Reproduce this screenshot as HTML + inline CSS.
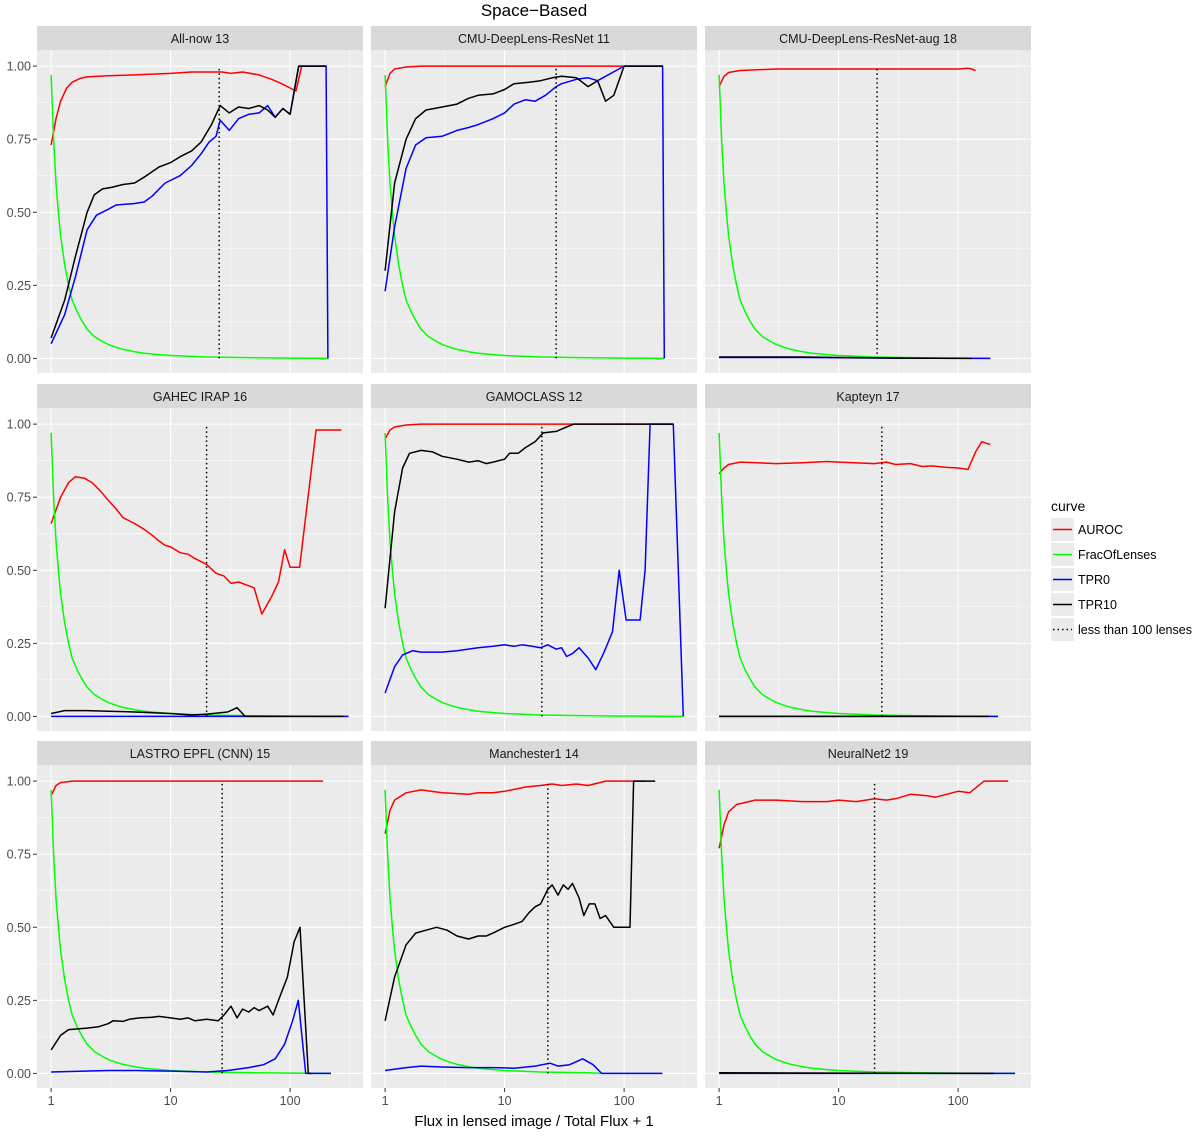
<!DOCTYPE html>
<html><head><meta charset="utf-8"><style>
body{margin:0;background:#fff;}
svg text{font-family:"Liberation Sans",Arial,sans-serif;}
</style></head><body>
<svg id="chart" width="1200" height="1133" viewBox="0 0 1200 1133" xmlns="http://www.w3.org/2000/svg">
<text x="534" y="16" font-size="17" text-anchor="middle" fill="#000">Space−Based</text>
<text x="534" y="1126" font-size="15" text-anchor="middle" fill="#000">Flux in lensed image / Total Flux + 1</text>
<g id="panels"></g>
<g id="legend">
<text x="1051" y="511" font-size="14" fill="#000">curve</text>
</g>
</svg>
<script>
const panelTitles = ["All-now 13","CMU-DeepLens-ResNet 11","CMU-DeepLens-ResNet-aug 18","GAHEC IRAP 16","GAMOCLASS 12","Kapteyn 17","LASTRO EPFL (CNN) 15","Manchester1 14","NeuralNet2 19"];
const yTicks = [0,0.25,0.5,0.75,1];
const yTickLabels = ["0.00","0.25","0.50","0.75","1.00"];
const xTicks = [1,10,100];
const xTickLabels = ["1","10","100"];
const legendLabels = ["AUROC","FracOfLenses","TPR0","TPR10","less than 100 lenses"];
const fracCurve = [[1,0.97],[1.05,0.75],[1.1,0.6],[1.15,0.5],[1.2,0.42],[1.3,0.32],[1.4,0.25],[1.5,0.2],[1.65,0.16],[1.8,0.13],[2,0.1],[2.3,0.075],[2.7,0.058],[3,0.048],[3.5,0.038],[4,0.031],[5,0.023],[6,0.018],[7,0.015],[8.5,0.012],[10,0.01],[15,0.007],[20,0.005],[35,0.003],[50,0.002],[100,0.001]];
const fracEnd = [210,217,186,308,313,216,220,65,300];
const dottedX = [25.5,27,21,20,20.5,23,27,23,20];

const auroc1 = [[1,0.73],[1.1,0.82],[1.2,0.88],[1.35,0.925],[1.5,0.945],[1.75,0.958],[2,0.963],[3,0.967],[5,0.97],[10,0.975],[15,0.98],[20,0.98],[27,0.98],[32,0.975],[40,0.98],[55,0.97],[70,0.955],[85,0.94],[100,0.925],[112,0.915],[125,1],[200,1]];
const tpr10_1 = [[1,0.07],[1.3,0.2],[1.6,0.35],[2,0.5],[2.3,0.56],[2.7,0.58],[3.2,0.585],[4,0.595],[5,0.6],[6,0.62],[8,0.655],[10,0.67],[12,0.69],[15,0.71],[18,0.74],[22,0.8],[26,0.865],[31,0.84],[37,0.86],[45,0.855],[55,0.865],[65,0.85],[75,0.825],[87,0.855],[100,0.835],[118,1],[200,1]];
const tpr0_1 = [[1,0.05],[1.3,0.15],[1.6,0.28],[2,0.44],[2.4,0.49],[3,0.51],[3.5,0.525],[5,0.53],[6,0.535],[7,0.555],[9,0.6],[12,0.625],[15,0.66],[18,0.7],[21,0.74],[24,0.76],[26,0.815],[31,0.78],[37,0.82],[45,0.835],[55,0.84],[65,0.865],[75,0.825],[87,0.855],[100,0.835],[118,1],[200,1],[207,0]];

const auroc2 = [[1,0.93],[1.1,0.975],[1.2,0.99],[1.5,0.997],[2,1],[100,1],[210,1]];
const tpr10_2 = [[1,0.3],[1.2,0.6],[1.5,0.75],[1.8,0.82],[2.2,0.85],[3,0.86],[4,0.87],[5,0.89],[6,0.9],[8,0.905],[10,0.92],[12,0.94],[16,0.945],[20,0.95],[25,0.96],[30,0.965],[40,0.96],[50,0.93],[60,0.95],[70,0.88],[82,0.9],[100,1],[210,1]];
const tpr0_2 = [[1,0.23],[1.2,0.45],[1.5,0.65],[1.8,0.73],[2.2,0.755],[3,0.76],[4,0.78],[5,0.79],[6,0.8],[8,0.82],[10,0.84],[12,0.87],[15,0.885],[18,0.88],[22,0.9],[27,0.93],[30,0.94],[40,0.955],[50,0.96],[60,0.95],[100,1],[210,1],[217,0]];

const auroc3 = [[1,0.93],[1.1,0.965],[1.2,0.978],[1.5,0.985],[3,0.99],[10,0.99],[50,0.99],[100,0.99],[120,0.993],[130,0.99],[140,0.985]];
const tpr10_3 = [[1,0.005],[5,0.005],[10,0.003],[30,0.001],[130,0]];
const tpr0_3 = [[1,0.003],[5,0.003],[30,0.001],[186,0]];

const auroc4 = [[1,0.66],[1.2,0.75],[1.4,0.8],[1.6,0.82],[1.9,0.815],[2.2,0.8],[2.6,0.77],[3,0.74],[3.5,0.71],[4,0.68],[5,0.66],[6,0.64],[7,0.62],[8,0.6],[9,0.585],[10,0.58],[12,0.56],[14,0.555],[16,0.54],[20,0.52],[24,0.49],[28,0.48],[32,0.455],[37,0.46],[43,0.45],[50,0.44],[58,0.35],[70,0.41],[80,0.46],[90,0.57],[100,0.51],[120,0.51],[165,0.98],[269,0.98]];
const tpr10_4 = [[1,0.01],[1.3,0.02],[2,0.02],[3,0.018],[5,0.015],[10,0.01],[15,0.005],[20,0.008],[30,0.015],[36,0.03],[42,0],[280,0]];
const tpr0_4 = [[1,0],[308,0]];

const auroc5 = [[1,0.95],[1.1,0.98],[1.2,0.99],[1.5,0.997],[2,1],[250,1]];
const tpr10_5 = [[1,0.37],[1.2,0.7],[1.4,0.85],[1.6,0.9],[2,0.91],[2.5,0.905],[3,0.89],[4,0.88],[5,0.87],[6,0.875],[7,0.865],[8,0.87],[10,0.88],[11,0.9],[13,0.9],[15,0.92],[18,0.94],[21,0.97],[27,0.975],[33,0.99],[38,1],[258,1]];
const tpr0_5 = [[1,0.08],[1.2,0.17],[1.4,0.21],[1.7,0.225],[2,0.22],[3,0.22],[4,0.225],[6,0.235],[8,0.24],[10,0.245],[12,0.24],[14,0.245],[17,0.24],[20,0.235],[23,0.245],[27,0.23],[30,0.235],[33,0.205],[37,0.215],[42,0.235],[50,0.2],[58,0.16],[68,0.22],[80,0.29],[91,0.5],[104,0.33],[136,0.33],[150,0.5],[165,1],[258,1],[313,0]];

const auroc6 = [[1,0.83],[1.1,0.85],[1.2,0.862],[1.5,0.87],[3,0.865],[5,0.868],[8,0.872],[10,0.87],[20,0.865],[25,0.87],[30,0.862],[40,0.865],[50,0.855],[60,0.857],[80,0.852],[100,0.85],[121,0.845],[140,0.905],[158,0.94],[186,0.93]];
const tpr10_6 = [[1,0],[180,0]];
const tpr0_6 = [[1,0],[216,0]];

const auroc7 = [[1,0.95],[1.1,0.985],[1.2,0.995],[1.5,1],[189,1]];
const tpr10_7 = [[1,0.08],[1.2,0.13],[1.4,0.15],[2,0.155],[2.5,0.16],[3,0.17],[3.3,0.18],[4,0.178],[4.5,0.185],[5.5,0.19],[7,0.192],[8,0.195],[10,0.19],[12,0.185],[14,0.19],[16,0.18],[20,0.185],[25,0.18],[28,0.2],[32,0.23],[36,0.19],[40,0.22],[45,0.21],[50,0.225],[55,0.215],[65,0.23],[72,0.2],[80,0.25],[95,0.33],[108,0.45],[121,0.5],[142,0],[150,0]];
const tpr0_7 = [[1,0.005],[3,0.01],[5,0.01],[10,0.008],[20,0.005],[30,0.01],[45,0.02],[60,0.03],[75,0.05],[90,0.1],[105,0.18],[117,0.25],[135,0],[220,0]];

const auroc8 = [[1,0.82],[1.1,0.9],[1.2,0.935],[1.5,0.96],[2,0.97],[3,0.96],[5,0.955],[6,0.96],[8,0.96],[10,0.965],[15,0.98],[20,0.985],[25,0.99],[30,0.985],[40,0.99],[50,0.985],[70,1],[150,1]];
const tpr10_8 = [[1,0.18],[1.2,0.33],[1.5,0.44],[1.8,0.48],[2.2,0.49],[2.7,0.5],[3.3,0.49],[4,0.47],[5,0.46],[6,0.47],[7,0.47],[8,0.48],[10,0.5],[12,0.51],[14,0.52],[16,0.55],[18,0.57],[20,0.58],[23,0.63],[25,0.645],[28,0.61],[31,0.645],[34,0.63],[37,0.65],[42,0.6],[46,0.54],[51,0.58],[57,0.58],[63,0.53],[70,0.54],[82,0.5],[112,0.5],[120,1],[182,1]];
const tpr0_8 = [[1,0.01],[1.5,0.02],[2,0.025],[3,0.022],[5,0.02],[8,0.02],[12,0.018],[18,0.025],[24,0.035],[28,0.025],[35,0.03],[45,0.05],[55,0.03],[65,0],[209,0]];

const auroc9 = [[1,0.77],[1.1,0.85],[1.2,0.895],[1.4,0.92],[2,0.935],[3,0.935],[5,0.93],[8,0.93],[10,0.935],[14,0.93],[20,0.94],[25,0.935],[30,0.94],[40,0.955],[55,0.95],[65,0.945],[80,0.955],[100,0.965],[125,0.96],[165,1],[263,1]];
const tpr10_9 = [[1,0.002],[10,0.001],[200,0]];
const tpr0_9 = [[1,0],[300,0]];

const aurocData = [auroc1,auroc2,auroc3,auroc4,auroc5,auroc6,auroc7,auroc8,auroc9];
const tpr10Data = [tpr10_1,tpr10_2,tpr10_3,tpr10_4,tpr10_5,tpr10_6,tpr10_7,tpr10_8,tpr10_9];
const tpr0Data = [tpr0_1,tpr0_2,tpr0_3,tpr0_4,tpr0_5,tpr0_6,tpr0_7,tpr0_8,tpr0_9];

const NS = "http://www.w3.org/2000/svg";
const colLeft = [37,371,705], rowTop = [26,384,741];
const PW = 326, PH = 323, SH = 24;
const XMIN = -0.118, XMAX = 2.61, YMIN = -0.055, YMAX = 1.05;
function mk(tag, attrs, parent){const e=document.createElementNS(NS,tag);for(const k in attrs)e.setAttribute(k,attrs[k]);parent.appendChild(e);return e;}
const root = document.getElementById('panels');
const colors = {auroc:"#FF0000",frac:"#00FF00",tpr0:"#0000FF",tpr10:"#000000"};

for(let i=0;i<9;i++){
  const c=i%3, r=Math.floor(i/3);
  const L=colLeft[c], T=rowTop[r]+SH;
  const sx=v=>L+(Math.log10(v)-XMIN)/(XMAX-XMIN)*PW;
  const sy=v=>T+1.5+(YMAX-v)/(YMAX-YMIN)*PH;
  const g=mk('g',{},root);
  
  
  const strip=mk('rect',{x:L,y:rowTop[r],width:PW,height:SH,fill:"#D9D9D9"},g);
  
  
  const st=mk('text',{x:L+PW/2,y:rowTop[r]+17,'font-size':12.5,'text-anchor':'middle',fill:'#1A1A1A'},g);
  st.textContent=panelTitles[i];
  
  
  const bg=mk('rect',{x:L,y:T,width:PW,height:PH,fill:"#EBEBEB"},g);
  
  
  [0.125,0.375,0.625,0.875].forEach(v=>mk('line',{x1:L,x2:L+PW,y1:sy(v),y2:sy(v),stroke:'#fff','stroke-width':0.5},g));
  [Math.sqrt(10),Math.sqrt(1000),Math.sqrt(100000)].forEach(v=>mk('line',{x1:sx(v),x2:sx(v),y1:T,y2:T+PH,stroke:'#fff','stroke-width':0.5},g));
  yTicks.forEach((v,k)=>{
    mk('line',{x1:L,x2:L+PW,y1:sy(v),y2:sy(v),stroke:'#fff','stroke-width':1.1},g);
    if(c===0){
      mk('line',{x1:L-4,x2:L,y1:sy(v),y2:sy(v),stroke:'#333','stroke-width':1},g);
      const t=mk('text',{x:L-6,y:sy(v)+4.5,'font-size':12.5,'text-anchor':'end',fill:'#4D4D4D'},g);
      t.textContent=yTickLabels[k];
      
      
    }
  });
  xTicks.forEach((v,k)=>{
    mk('line',{x1:sx(v),x2:sx(v),y1:T,y2:T+PH,stroke:'#fff','stroke-width':1.1},g);
    if(r===2){
      mk('line',{x1:sx(v),x2:sx(v),y1:T+PH,y2:T+PH+4,stroke:'#333','stroke-width':1},g);
      const t=mk('text',{x:sx(v),y:T+PH+17,'font-size':12.5,'text-anchor':'middle',fill:'#4D4D4D'},g);
      t.textContent=xTickLabels[k];
      
      
    }
  });
  const line=(pts,col,name)=>{
    const p=mk('polyline',{points:pts.map(d=>sx(d[0]).toFixed(1)+','+sy(d[1]).toFixed(1)).join(' '),fill:'none',stroke:col,'stroke-width':1.5,'stroke-linejoin':'round'},g);
    
    
  };
  const frac=fracCurve.filter(d=>d[0]<fracEnd[i]).concat([[fracEnd[i],0]]);
  line(aurocData[i],colors.auroc,'auroc-line');
  line(frac,colors.frac,'frac-of-lenses-line');
  line(tpr0Data[i],colors.tpr0,'tpr0-line');
  line(tpr10Data[i],colors.tpr10,'tpr10-line');
  const dl=mk('line',{x1:sx(dottedX[i]),x2:sx(dottedX[i]),y1:sy(0),y2:sy(1),stroke:'#000','stroke-width':1.5,'stroke-dasharray':'1.5,3'},g);
  
  
}
const lg=document.getElementById('legend');
const lcol=["#FF0000","#00FF00","#0000FF","#000000","#000000"];
legendLabels.forEach((lab,k)=>{
  const y=518+k*25;
  const box=mk('rect',{x:1051,y:y,width:23,height:23,fill:'#EBEBEB'},lg);
  
  
  const ln=mk('line',{x1:1053,x2:1072,y1:y+11.5,y2:y+11.5,stroke:lcol[k],'stroke-width':1.4},lg);
  if(k===4)ln.setAttribute('stroke-dasharray','1.5,3');
  const t=mk('text',{x:1078,y:y+16,'font-size':12.5,fill:'#000'},lg);
  t.textContent=lab;
  
  
});
</script>
</body></html>
